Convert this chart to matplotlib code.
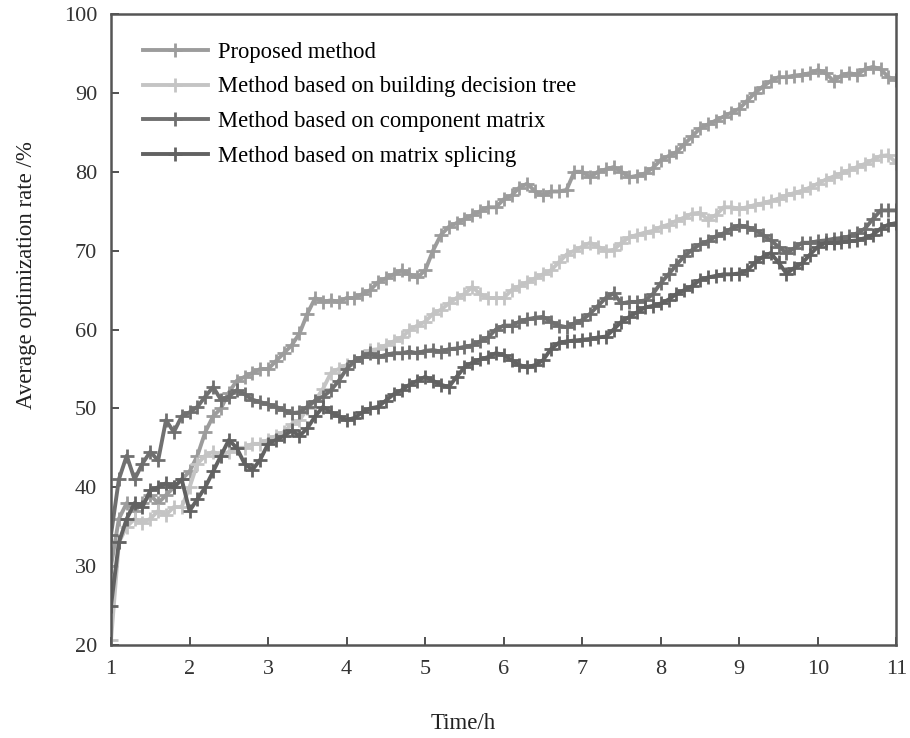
import numpy as np
import matplotlib
matplotlib.use('Agg')
import matplotlib.pyplot as plt

plt.rcParams['font.family'] = ['Liberation Serif', 'DejaVu Serif']

# time grid (h)
time_h = np.round(np.arange(1.0, 11.01, 0.1), 1)

proposed = [
    30, 36, 38, 37, 38, 39, 38, 39, 40, 41,
    42, 44, 47, 49, 50, 52, 53.5, 54, 54.5, 55,
    55, 56, 57, 58, 59.5, 62, 64, 63.5, 63.7, 63.5,
    64, 64, 64.5, 65, 66, 66.5, 67, 67.5, 67, 66.6,
    67.5, 70, 72, 73, 73.5, 74, 74.5, 75, 75.5, 75.5,
    76.5, 77, 78, 78.5, 77.5, 77, 77.5, 77.5, 77.7, 80,
    80, 79.3, 80, 80.3, 80.6, 80, 79.3, 79.5, 79.8, 80.5,
    81.5, 82, 82.5, 83.5, 84.5, 85.5, 86, 86.5, 87, 87.5,
    88, 89, 90, 90.8, 91.5, 92, 92, 92.2, 92.3, 92.5,
    92.9, 92.5, 91.5, 92.2, 92.5, 92.3, 93, 93.3, 93, 92,
    91.6,
]

decision_tree = [
    20.6, 33, 35, 36, 35.5, 36, 37, 36.5, 37.5, 37.5,
    40, 43, 44, 44.5, 44, 44.5, 45, 45, 45.5, 45.5,
    46, 46.5, 47, 48, 48.5, 50, 51, 52.5, 54.5, 55,
    55.5, 56, 56.5, 57.4, 57.5, 58, 58.5, 59, 59.9, 60.5,
    61, 62, 62.5, 63.3, 64, 64.5, 65.4, 64.5, 64, 64,
    64, 65, 65.5, 66, 66.5, 67, 67.5, 68.5, 69.5, 70,
    70.5, 71, 70.5, 70, 70.1, 71, 71.7, 72, 72.3, 72.5,
    73, 73.3, 73.8, 74.2, 74.7, 74.8, 73.9, 74.5, 75.5, 75.5,
    75.3, 75.5, 75.8, 76, 76.3, 76.6, 77, 77.3, 77.6, 78,
    78.5, 79, 79.4, 79.8, 80.2, 80.6, 81, 81.5, 82, 82.1,
    81.1,
]

component_matrix = [
    34, 41, 44, 41, 43, 44.5, 43.4, 48.5, 47, 49,
    49.5, 50.2, 51.5, 52.7, 51.1, 51.5, 52.3, 51.8, 51.1, 50.8,
    50.5, 50.2, 49.8, 49.4, 49.5, 50.2, 51, 51.5, 52.3, 53.5,
    55, 56, 56.5, 57, 56.5, 56.8, 57, 57, 57.2, 57,
    57.3, 57.4, 57.2, 57.5, 57.6, 57.8, 58, 58.5, 59, 60,
    60.5, 60.5, 61, 61.3, 61.5, 61.6, 61, 60.5, 60.3, 60.8,
    61.2, 62, 63, 64, 64.6, 63.3, 63.5, 63.5, 63.7, 64.5,
    65.9, 67, 68.2, 69.3, 70.1, 70.8, 71.2, 71.8, 72.2, 72.8,
    73.2, 73, 72.6, 72, 71.3, 70.5, 69.7, 70.3, 71, 71,
    71.2, 71.3, 71.5, 71.6, 71.8, 72.2, 72.8, 74, 75.1, 75.1,
    75.1,
]

matrix_splicing = [
    25, 33, 36, 38, 37.5, 39.6, 40, 40.5, 40, 41,
    37, 38.5, 40, 42, 44, 46, 45, 43, 42.2, 43.5,
    45.5, 46, 46.5, 47.2, 46.5, 47.5, 49, 50.2, 49.5, 49,
    48.5, 48.8, 49.5, 50, 50.2, 51, 51.8, 52.3, 53, 53.5,
    54, 53.5, 53, 52.7, 54, 55.2, 55.8, 56.2, 56.5, 57,
    56.8, 56.1, 55.5, 55.2, 55.5, 56.1, 57.5, 58.3, 58.5, 58.6,
    58.7, 58.8, 59, 59.1, 60, 61, 61.6, 62.2, 62.8, 63,
    63.3, 63.8, 64.5, 65, 65.5, 66.3, 66.6, 66.8, 67, 67,
    67.1, 67.5, 68.5, 69.2, 69.7, 68.5, 67.1, 67.8, 68.4, 69.5,
    70.5, 71, 71, 71.1, 71.2, 71.3, 71.6, 72, 72.8, 73.3,
    73.5,
]

labels = ['Proposed method', 'Method based on building decision tree',
          'Method based on component matrix', 'Method based on matrix splicing']
colors = ['#9c9c9c', '#c4c4c4', '#707070', '#626262']

fig = plt.figure(figsize=(9.1, 7.38), dpi=100)
ax = fig.add_axes([0.122, 0.126, 0.863, 0.855])

for y, lab, c in zip([proposed, decision_tree, component_matrix, matrix_splicing], labels, colors):
    ax.plot(time_h, y, color=c, linewidth=2.8, marker='+', markersize=10,
            markeredgewidth=2.0, label=lab)

ax.set_xlim(1, 11)
ax.set_ylim(20, 100)
ax.set_xticks(range(1, 12))
ax.set_yticks(range(20, 101, 10))
ax.tick_params(direction='in', length=6, width=1.2, labelsize=16, colors='#333333')
ax.tick_params(axis='x', pad=11)
ax.tick_params(axis='y', pad=10)
for s in ax.spines.values():
    s.set_linewidth(1.8)
    s.set_color('#555555')

ax.set_xlabel('Time/h', fontsize=16.5, color='#222222')
ax.set_ylabel('Average optimization rate /%', fontsize=16.5, color='#222222')
ax.xaxis.set_label_coords(0.449, -0.107)
ax.yaxis.set_label_coords(-0.094, 0.586)

ax.legend(loc='upper left', bbox_to_anchor=(0.02, 0.981), frameon=False, fontsize=16.3,
          handlelength=2.9, handletextpad=0.45, labelspacing=0.6, borderaxespad=0.3)

fig.savefig('out.png', dpi=100)
